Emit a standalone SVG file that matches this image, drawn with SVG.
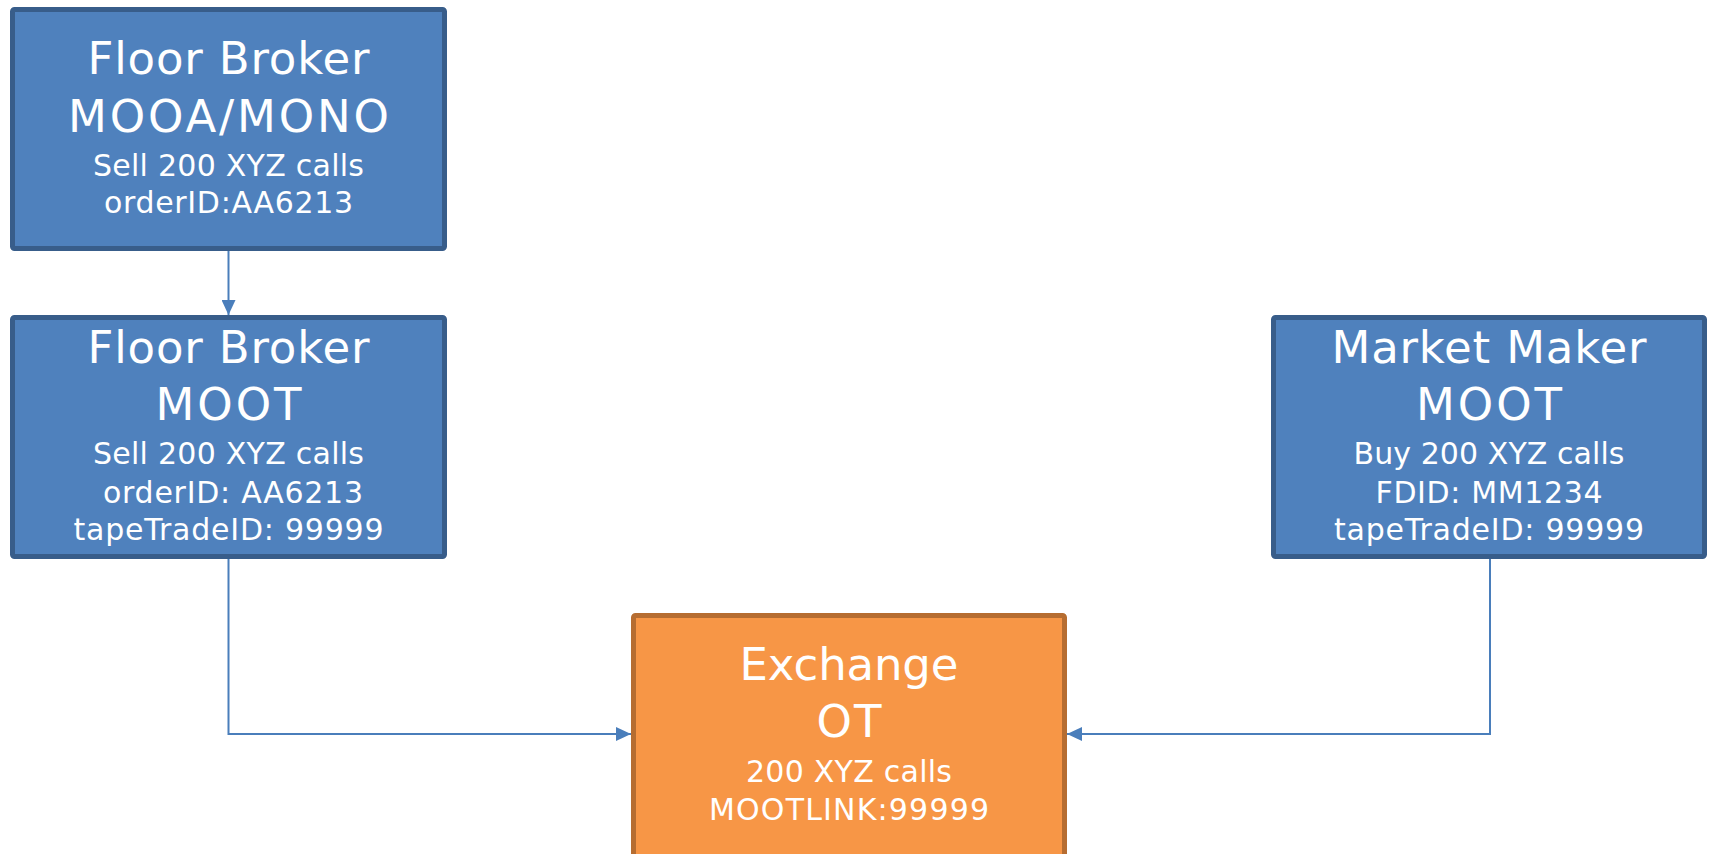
<svg xmlns="http://www.w3.org/2000/svg" width="1710" height="854" viewBox="0 0 1710 854">
<style>
.blue{fill:#4F81BD;stroke:#385D8A;stroke-width:5}
.orange{fill:#F79646;stroke:#B66D31;stroke-width:5}
text{font-family:"DejaVu Sans","Liberation Sans",sans-serif;fill:#FFFFFF;text-anchor:middle}
.big{font-size:45px}
.small{font-size:30px}
.conn{fill:none;stroke:#4A7EBB;stroke-width:2}
</style>
<defs>
<marker id="arr" markerWidth="16" markerHeight="14" refX="15" refY="7" orient="auto" markerUnits="userSpaceOnUse">
<path d="M0,0 L15,7 L0,14 Z" fill="#4A7EBB"/>
</marker>
</defs>
<rect width="1710" height="854" fill="#FFFFFF"/>
<g id="connectors">
<path class="conn" d="M228.5,251 L228.5,315" marker-end="url(#arr)"/>
<path class="conn" d="M228.5,559 L228.5,734 L631,734" marker-end="url(#arr)"/>
<path class="conn" d="M1490,559 L1490,734 L1067,734" marker-end="url(#arr)"/>
</g>
<g id="fb1">
<rect class="blue" x="12.5" y="9.5" width="432" height="239" rx="2"/>
<text class="big" x="228.5" y="74" textLength="282">Floor Broker</text>
<text class="big" x="228.5" y="132" textLength="321">MOOA/MONO</text>
<text class="small" x="228.5" y="176" textLength="271">Sell 200 XYZ calls</text>
<text class="small" x="228.5" y="213" textLength="249">orderID:AA6213</text>
</g>
<g id="fb2">
<rect class="blue" x="12.5" y="317.5" width="432" height="239" rx="2"/>
<text class="big" x="228.5" y="363" textLength="282">Floor Broker</text>
<text class="big" x="228.5" y="420" textLength="146">MOOT</text>
<text class="small" x="228.5" y="464" textLength="271">Sell 200 XYZ calls</text>
<text class="small" x="233" y="503" textLength="260">orderID: AA6213</text>
<text class="small" x="228.5" y="540" textLength="310">tapeTradeID: 99999</text>
</g>
<g id="mm">
<rect class="blue" x="1273.5" y="317.5" width="431" height="239" rx="2"/>
<text class="big" x="1489" y="363" textLength="315">Market Maker</text>
<text class="big" x="1489" y="420" textLength="146">MOOT</text>
<text class="small" x="1489" y="464" textLength="271">Buy 200 XYZ calls</text>
<text class="small" x="1489" y="503" textLength="227">FDID: MM1234</text>
<text class="small" x="1489" y="540" textLength="310">tapeTradeID: 99999</text>
</g>
<g id="exchange">
<rect class="orange" x="633.5" y="615.5" width="431" height="260" rx="2"/>
<text class="big" x="849" y="680" textLength="219">Exchange</text>
<text class="big" x="849" y="737" textLength="65">OT</text>
<text class="small" x="849" y="782" textLength="206">200 XYZ calls</text>
<text class="small" x="849" y="820" textLength="280">MOOTLINK:99999</text>
</g>
</svg>
